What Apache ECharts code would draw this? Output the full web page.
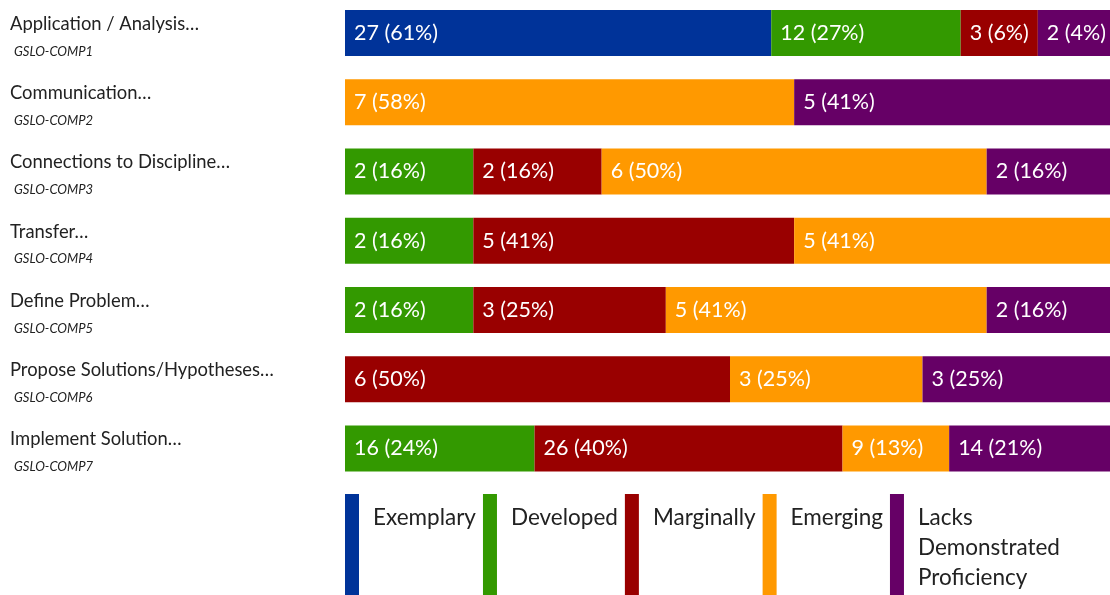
<!DOCTYPE html>
<html>
<head>
<meta charset="utf-8">
<script src="https://cdn.jsdelivr.net/npm/echarts@6/dist/echarts.min.js"></script>
<style>
html,body{margin:0;padding:0;background:#fff;}
#chart{width:1110px;height:595px;}
</style>
</head>
<body>
<div id="chart"></div>
<script>
const categories = ['Application / Analysis…', 'Communication…', 'Connections to Discipline…', 'Transfer…', 'Define Problem…', 'Propose Solutions/Hypotheses…', 'Implement Solution…'];
const codes = ['GSLO-COMP1', 'GSLO-COMP2', 'GSLO-COMP3', 'GSLO-COMP4', 'GSLO-COMP5', 'GSLO-COMP6', 'GSLO-COMP7'];
const levels = ['Exemplary', 'Developed', 'Marginally', 'Emerging', 'Lacks Demonstrated Proficiency'];
const exemplary  = [27, 0, 0, 0, 0, 0, 0];
const developed  = [12, 0, 2, 2, 2, 0, 16];
const marginally = [3, 0, 2, 5, 3, 6, 26];
const emerging   = [0, 7, 6, 5, 5, 3, 9];
const lacks      = [2, 5, 2, 0, 2, 3, 14];
const colors = ['#003399', '#339900', '#990000', '#FF9900', '#660066'];

const counts = [exemplary, developed, marginally, emerging, lacks];
const FONT = 'Lato, "DejaVu Sans", sans-serif';
const LABEL_SIZE = 21.5;
const GRID_LEFT = 345, GRID_RIGHT = -5, GRID_W = 1110 - GRID_LEFT - GRID_RIGHT;
const PAD = 9;

function labelText(c, total) { return c + ' (' + Math.floor(c / total * 100) + '%)'; }

// measure label widths to give each segment room for its label
const cv = document.createElement('canvas').getContext('2d');
cv.font = LABEL_SIZE + 'px ' + FONT;

// display shares: proportional, but each non-empty segment is at least wide enough for its label
const shares = levels.map(() => []);
for (let r = 0; r < categories.length; r++) {
  const row = counts.map(s => s[r]);
  const total = row.reduce((a, b) => a + b, 0);
  let sh = row.map(c => c / total);
  const mins = row.map(c => c > 0 ? (cv.measureText(labelText(c, total)).width + 2 * PAD) / GRID_W : 0);
  const fixed = sh.map((s, i) => s > 0 && s < mins[i]);
  if (fixed.some(f => f)) {
    const fixedSum = sh.reduce((a, s, i) => a + (fixed[i] ? mins[i] : 0), 0);
    const freeSum = sh.reduce((a, s, i) => a + (fixed[i] ? 0 : s), 0);
    sh = sh.map((s, i) => fixed[i] ? mins[i] : s / freeSum * (1 - fixedSum));
  }
  sh.forEach((s, i) => shares[i].push(row[i] > 0 ? { value: s, count: row[i], total: total } : null));
}

const chart = echarts.init(document.getElementById('chart'), null, { renderer: 'canvas' });
chart.setOption({
  animation: false,
  textStyle: { fontFamily: FONT },
  grid: { left: GRID_LEFT, right: GRID_RIGHT, top: -1.6, height: 484.75, outerBoundsMode: 'none', containLabel: false },
  xAxis: { type: 'value', min: 0, max: 1, show: false },
  yAxis: {
    type: 'category',
    inverse: true,
    data: categories,
    axisLine: { show: false },
    axisTick: { show: false },
    splitLine: { show: false },
    axisLabel: {
      align: 'left',
      margin: GRID_LEFT - 10,
      formatter: (v, i) => '{n|' + v + '}\n{c|' + codes[i] + '}',
      rich: {
        n: { fontSize: 18.4, lineHeight: 37, color: '#222', fontFamily: FONT },
        c: { fontSize: 13, lineHeight: 18, color: '#222', fontStyle: 'italic', fontFamily: FONT, padding: [0, 0, 0, 4] }
      }
    }
  },
  legend: {
    left: GRID_LEFT,
    top: 494,
    padding: 0,
    itemWidth: 14,
    itemHeight: 108,
    itemGap: 7,
    icon: 'rect',
    selectedMode: false,
    formatter: n => n === 'Lacks Demonstrated Proficiency' ? 'Lacks\nDemonstrated\nProficiency' : n + '\n \n ',
    textStyle: { fontSize: 22.5, lineHeight: 30, color: '#222', fontFamily: FONT, padding: [0, 0, 0, 9] },
    data: levels
  },
  series: levels.map((n, i) => ({
    name: n,
    type: 'bar',
    stack: 'all',
    barWidth: 46,
    color: colors[i],
    itemStyle: { color: colors[i] },
    label: {
      show: true,
      position: 'insideLeft',
      distance: PAD,
      color: '#fff',
      fontSize: LABEL_SIZE,
      fontFamily: FONT,
      formatter: p => p.data ? labelText(p.data.count, p.data.total) : ''
    },
    data: shares[i]
  }))
});
</script>
</body>
</html>
